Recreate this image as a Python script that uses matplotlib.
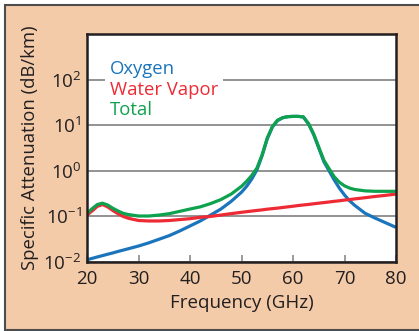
import matplotlib
matplotlib.use("Agg")
import matplotlib.pyplot as plt
from matplotlib.patches import Rectangle

plt.rcParams['font.family'] = ['Open Sans', 'DejaVu Sans']
plt.rcParams['mathtext.fontset'] = 'custom'
plt.rcParams['mathtext.rm'] = 'Open Sans'
plt.rcParams['mathtext.it'] = 'Open Sans'
plt.rcParams['mathtext.bf'] = 'Open Sans'

# ---- data ----
freq = [20, 21, 22, 23, 24, 25, 26, 27, 28, 30, 32, 34, 36, 38, 40, 42, 44, 46, 48, 50,
        51, 52, 53, 54, 55, 56, 57, 58, 59, 60, 61, 62, 63, 64, 65, 66, 67, 68, 69, 70,
        71, 72, 74, 76, 78, 80]

oxygen = [0.0112, 0.0120, 0.0129, 0.0138, 0.0148, 0.0158, 0.0170, 0.0182, 0.0195, 0.0224,
          0.0263, 0.0316, 0.0380, 0.0479, 0.0617, 0.0794, 0.107, 0.145, 0.214, 0.339,
          0.457, 0.661, 1.05, 2.14, 5.01, 9.12, 12.6, 14.6, 15.4, 15.6,
          15.6, 15.2, 10.7, 6.31, 3.16, 1.58, 1.00, 0.631, 0.417, 0.295,
          0.219, 0.174, 0.117, 0.0912, 0.0724, 0.0575]

water_vapor = [0.107, 0.132, 0.166, 0.182, 0.162, 0.135, 0.115, 0.100, 0.0912, 0.0813,
               0.0794, 0.0794, 0.0813, 0.0851, 0.0891, 0.0955, 0.100, 0.107, 0.115, 0.123,
               0.127, 0.131, 0.135, 0.139, 0.144, 0.148, 0.152, 0.157, 0.162, 0.167,
               0.173, 0.178, 0.183, 0.189, 0.195, 0.201, 0.207, 0.214, 0.220, 0.228,
               0.234, 0.242, 0.257, 0.274, 0.290, 0.309]

total = [0.117, 0.148, 0.182, 0.195, 0.178, 0.151, 0.132, 0.117, 0.110, 0.102,
         0.102, 0.107, 0.115, 0.129, 0.145, 0.162, 0.191, 0.234, 0.309, 0.457,
         0.589, 0.794, 1.15, 2.24, 5.25, 9.33, 12.9, 14.6, 15.4, 15.6,
         15.6, 15.2, 10.9, 6.46, 3.31, 1.70, 1.12, 0.741, 0.562, 0.468,
         0.417, 0.389, 0.363, 0.355, 0.355, 0.355]

series_names = ['Oxygen', 'Water Vapor', 'Total']
x_ticks = [20, 30, 40, 50, 60, 70, 80]
y_ticks = [1e-2, 1e-1, 1e0, 1e1, 1e2]
y_tick_labels = [r'$10^{-2}$', r'$10^{-1}$', r'$10^{0}$', r'$10^{1}$', r'$10^{2}$']

# ---- style ----
W, H = 419, 331
BG = '#f3cba9'
BLUE = '#1b75bc'
RED = '#ee2a35'
GREEN = '#0ea24f'
GRID = '#8a8a8a'
SPINE = '#231f20'

fig = plt.figure(figsize=(W / 100, H / 100), dpi=100, facecolor='white')
fig.patches.append(Rectangle((5 / W, 1 - 330 / H), 1.0, (330 - 5) / H, transform=fig.transFigure,
                             facecolor=BG, edgecolor='#4d4d4d', linewidth=1.5, zorder=-10))

ax = fig.add_axes([87 / W, 1 - 262 / H, (396 - 87) / W, (262 - 34) / H])
ax.set_zorder(1)
ax.set_facecolor('white')
ax.set_yscale('log')
ax.set_xlim(20, 80)
ax.set_ylim(1e-2, 1e3)

ax.plot(freq, oxygen, color=BLUE, lw=2.3, zorder=3, solid_capstyle='butt')
ax.plot(freq, water_vapor, color=RED, lw=2.3, zorder=4, solid_capstyle='butt')
ax.plot(freq, total, color=GREEN, lw=2.3, zorder=5, solid_capstyle='butt')

ax.set_yticks(y_ticks)
ax.set_yticklabels(y_tick_labels)
ax.yaxis.set_minor_locator(matplotlib.ticker.NullLocator())
ax.set_xticks(x_ticks)
ax.set_xticklabels([str(t) for t in x_ticks])
ax.tick_params(axis='y', length=0, pad=4, labelsize=13.5, colors='#231f20')
ax.tick_params(axis='x', direction='in', length=5, width=1.2, color=GRID, pad=6,
               labelsize=13.5, labelcolor='#231f20')
ax.grid(axis='y', which='major', color=GRID, lw=1.3, zorder=1)
ax.set_axisbelow(True)
for s in ax.spines.values():
    s.set_color(SPINE)
    s.set_linewidth(1.8)
    s.set_zorder(6)

ax.set_xlabel('Frequency (GHz)', fontsize=13.5, color='#231f20', labelpad=4)
ax.set_ylabel('Specific Attenuation (dB/km)', fontsize=13.3, color='#231f20', labelpad=3)

# legend as coloured text on a white patch
ax.add_patch(Rectangle((18 / 309, (262 - 120) / 228), (223 - 105) / 309, 62 / 228,
                       transform=ax.transAxes, facecolor='white', edgecolor='none', zorder=2))
for name, col, yb in zip(series_names, [BLUE, RED, GREEN], [74, 95, 115]):
    ax.text((110 - 87) / 309, (262 - yb) / 228, name, color=col, fontsize=13.3,
            transform=ax.transAxes, va='baseline', ha='left', zorder=7)

fig.savefig('out.png', dpi=100, facecolor=fig.get_facecolor())
